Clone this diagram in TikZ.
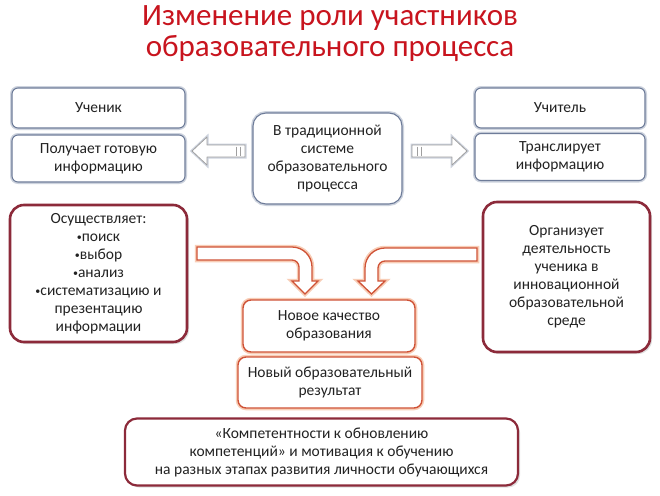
\documentclass[tikz,border=0pt]{standalone}
\usepackage{fontspec}
\setmainfont{Carlito}
\usetikzlibrary{shadows}
\definecolor{titlered}{HTML}{C8141E}
\definecolor{blueedge}{HTML}{6E7C99}
\definecolor{bluehalo}{HTML}{CDD3DE}
\definecolor{darkred}{HTML}{8C2A3A}
\definecolor{orangeedge}{HTML}{CF5236}
\definecolor{orangehalo}{HTML}{F8CDB6}
\definecolor{txt}{HTML}{222222}
\newcommand{\smbul}{{\fontsize{10}{10}\selectfont\raisebox{1pt}{•}}}
\tikzset{
  basebox/.style={align=center, inner sep=1pt, text=txt, font=\fontsize{15.5}{18}\selectfont, fill=white},
  bluebox/.style={basebox, draw=blueedge, line width=1.1pt, rounded corners=6pt,
    preaction={draw=bluehalo, line width=4pt}},
  redbox/.style={basebox, draw=darkred, line width=2.6pt, rounded corners=14pt,
    drop shadow={shadow xshift=2pt, shadow yshift=-2pt, opacity=0.25}},
  orangebox/.style={basebox, draw=orangeedge, line width=1.4pt, rounded corners=8pt,
    preaction={draw=orangehalo, line width=4.5pt}},
  hollowarrow/.style={draw=gray!75, line width=0.8pt, fill=white, line join=round,
    preaction={draw=bluehalo, line width=3pt}},
  curvearrow/.style={draw=orangeedge, line width=1.3pt, fill=white, line join=miter,
    preaction={draw=orangehalo, line width=4.5pt}},
  titletext/.style={align=center, text=titlered, font=\fontsize{31}{31}\selectfont}
}
\begin{document}
\begin{tikzpicture}[x=1pt,y=-1pt]
\useasboundingbox[fill=white] (0,0) rectangle (660,495);

\node[titletext] (title) at (330,34) {Изменение роли участников\\образовательного процесса};

% top row
\node[bluebox, minimum width=173pt, minimum height=40pt] (uchenik) at (98.5,108) {Ученик};
\node[bluebox, minimum width=173pt, minimum height=47pt] (poluch) at (98.5,158.5) {Получает  готовую\\информацию};
\node[bluebox, minimum width=170pt, minimum height=40pt] (uchitel) at (560,108) {Учитель};
\node[bluebox, minimum width=170pt, minimum height=47pt] (transl) at (560,157) {Транслирует\\информацию};
\node[bluebox, rounded corners=13pt, minimum width=149pt, minimum height=91pt] (trad) at (327.5,158.5)
  {В традиционной\\системе\\образовательного\\процесса};

% hollow straight arrows
\draw[hollowarrow] (245,145) -- (207,145) -- (207,137) -- (192,151) -- (207,165) -- (207,157) -- (245,157) -- cycle;
\draw[gray!75, line width=0.8pt] (236,146.5) -- (236,155.5) (240,146.5) -- (240,155.5);
\draw[hollowarrow] (412,145) -- (452,145) -- (452,137) -- (467,151) -- (452,165) -- (452,157) -- (412,157) -- cycle;
\draw[gray!75, line width=0.8pt] (417,146.5) -- (417,155.5) (421,146.5) -- (421,155.5);

% red boxes
\node[redbox, minimum width=177pt, minimum height=137pt] (osush) at (98.5,273.5)
  {Осуществляет:\\\smbul поиск\\\smbul выбор\\\smbul анализ\\\smbul систематизацию и\\презентацию\\информации};
\node[redbox, minimum width=167pt, minimum height=150pt] (organ) at (566.5,277)
  {Организует\\деятельность\\ученика  в\\инновационной\\образовательной\\среде};

% curved arrows
\draw[curvearrow] (197,247) -- (292,247) arc[start angle=270, end angle=360, radius=20]
  -- (312,281) -- (318,281) -- (305,294) -- (292,281) -- (299,281) -- (299,267)
  arc[start angle=0, end angle=-90, radius=7] -- (197,260) -- cycle;
\draw[curvearrow] (477,248) -- (385,248) arc[start angle=270, end angle=180, radius=20]
  -- (365,281) -- (358,281) -- (371.5,294) -- (385,281) -- (378,281) -- (378,268)
  arc[start angle=180, end angle=270, radius=7] -- (477,261) -- cycle;

% middle stack
\node[orangebox, minimum width=172pt, minimum height=52pt] (novoe) at (329,326) {Новое качество\\образования};
\node[orangebox, minimum width=184pt, minimum height=51pt] (rezult) at (330,382.5) {Новый образовательный\\результат};

% bottom box
\node[redbox, line width=2.2pt, rounded corners=12pt, minimum width=393pt, minimum height=67pt] (bottom) at (321.5,452)
  {«Компетентности к обновлению\\компетенций» и мотивация к обучению\\на разных этапах развития личности обучающихся};
\end{tikzpicture}
\end{document}
